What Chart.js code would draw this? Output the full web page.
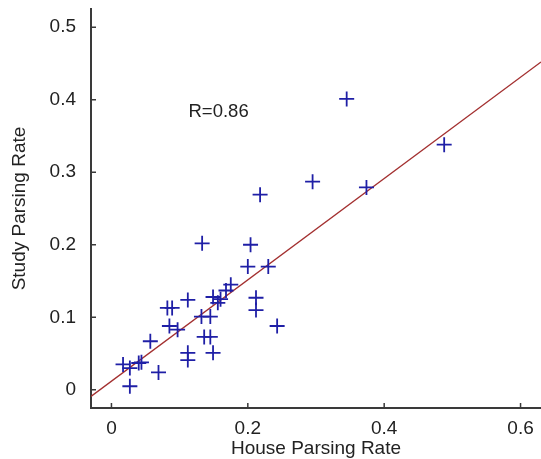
<!DOCTYPE html>
<html><head><meta charset="utf-8">
<script src="https://cdn.jsdelivr.net/npm/chart.js@4/dist/chart.umd.min.js"></script>
<style>html,body{margin:0;padding:0;background:#fff}#wrap{width:541px;height:459px}</style>
</head><body><div id="wrap"><canvas id="c" width="541" height="459"></canvas></div>
<script>
const houseRate = [0.345,0.295,0.374,0.488,0.218,0.133,0.204,0.200,0.230,0.175,0.168,0.149,0.160,0.156,0.112,0.212,0.212,0.082,0.089,0.132,0.145,0.085,0.097,0.243,0.136,0.145,0.057,0.017,0.027,0.040,0.044,0.027,0.069,0.112,0.112,0.149];
const studyRate = [0.401,0.287,0.279,0.338,0.269,0.202,0.200,0.170,0.170,0.145,0.137,0.128,0.125,0.120,0.124,0.127,0.110,0.113,0.113,0.101,0.101,0.088,0.083,0.088,0.073,0.073,0.067,0.035,0.030,0.037,0.038,0.005,0.024,0.051,0.041,0.051];
const fitX = [-0.03, 0.63];
const fitY = [-0.009, 0.452];
const xTicks = [0, 0.2, 0.4, 0.6];
const yTicks = [0, 0.1, 0.2, 0.3, 0.4, 0.5];
const rLabel = 'R=0.86';
const rPos = [0.113, 0.383];

const FONT = '"Liberation Sans", Arial, sans-serif';
const FS = 19;
const AXIS = '#3a3a3a';
const TXT = '#222';
const fmt = v => v === 0 ? '0' : Number(v).toFixed(1);

const extras = {
  id: 'extras',
  afterDraw(chart) {
    const {ctx, chartArea: a, scales: {x, y}} = chart;
    ctx.save();
    ctx.strokeStyle = AXIS; ctx.lineWidth = 1.5;
    ctx.beginPath();
    xTicks.forEach(v => { const px = x.getPixelForValue(v); ctx.moveTo(px, a.bottom); ctx.lineTo(px, a.bottom - 5); });
    yTicks.forEach(v => { const py = y.getPixelForValue(v); ctx.moveTo(a.left, py); ctx.lineTo(a.left + 5, py); });
    ctx.stroke();
    ctx.fillStyle = TXT; ctx.font = '18.5px ' + FONT;
    ctx.textBaseline = 'middle'; ctx.textAlign = 'left';
    ctx.fillText(rLabel, x.getPixelForValue(rPos[0]), y.getPixelForValue(rPos[1]));
    ctx.restore();
  }
};

new Chart(document.getElementById('c'), {
  type: 'scatter',
  data: {
    datasets: [
      {
        type: 'scatter',
        data: houseRate.map((v, i) => ({x: v, y: studyRate[i]})),
        pointStyle: 'cross', pointRadius: 7.5, pointBorderWidth: 1.8,
        borderColor: '#1f1fa6', backgroundColor: '#1f1fa6', order: 1
      },
      {
        type: 'line',
        data: fitX.map((v, i) => ({x: v, y: fitY[i]})),
        borderColor: '#a33030', borderWidth: 1.3, pointRadius: 0, fill: false, order: 2
      }
    ]
  },
  options: {
    responsive: false, animation: false, devicePixelRatio: 1,
    layout: {autoPadding: false, padding: {top: 9, right: 0, left: 0, bottom: 0}},
    plugins: {legend: {display: false}, tooltip: {enabled: false}},
    scales: {
      x: {
        type: 'linear', min: -0.03, max: 0.63,
        afterBuildTicks: s => { s.ticks = xTicks.map(v => ({value: v})); },
        afterFit: s => { s.height = 51; s.paddingLeft = 0; s.paddingRight = 0; },
        ticks: {callback: fmt, font: {family: FONT, size: FS}, color: TXT, padding: 1, maxRotation: 0, autoSkip: false},
        grid: {display: false},
        border: {display: true, color: AXIS, width: 2},
        title: {display: true, text: 'House Parsing Rate', font: {family: FONT, size: FS}, color: TXT, padding: {top: 0, bottom: -1}}
      },
      y: {
        type: 'linear', min: -0.025, max: 0.525,
        afterBuildTicks: s => { s.ticks = yTicks.map(v => ({value: v})); },
        afterFit: s => { s.width = 91; s.paddingTop = 0; s.paddingBottom = 0; },
        ticks: {callback: fmt, font: {family: FONT, size: FS}, color: TXT, padding: 7, autoSkip: false},
        grid: {display: false},
        border: {display: true, color: AXIS, width: 2},
        title: {display: true, text: 'Study Parsing Rate', font: {family: FONT, size: FS}, color: TXT, padding: {top: 8, bottom: 0}}
      }
    }
  },
  plugins: [extras]
});
</script></body></html>
